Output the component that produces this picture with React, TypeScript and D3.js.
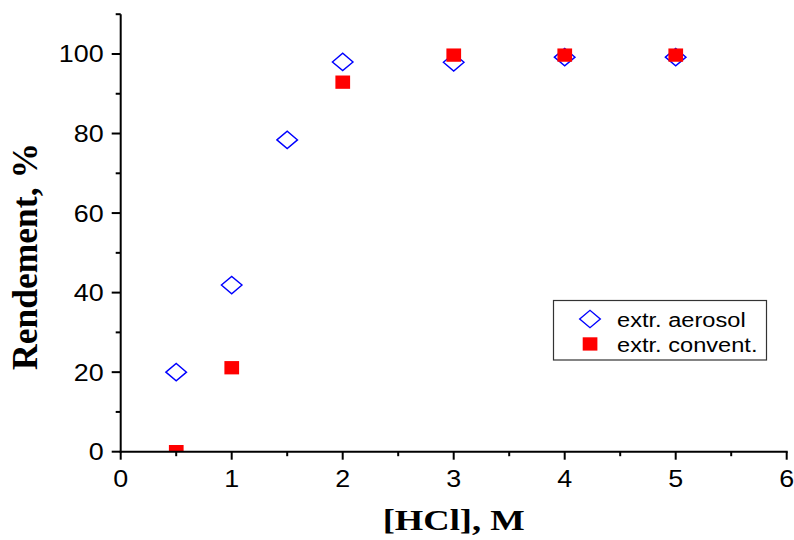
import React from "react";
import * as d3 from "d3";

const hcl = [0.5, 1, 1.5, 2, 3, 4, 5];
const aerosol = [20, 41.9, 78.4, 98, 97.9, 99.2, 99.2];
const hclConv = [0.5, 1, 2, 3, 4, 5];
const convent = [0, 21.1, 92.9, 99.7, 99.7, 99.7];
const xMajor = [0, 1, 2, 3, 4, 5, 6];
const xMinor = [0.5, 1.5, 2.5, 3.5, 4.5, 5.5];
const yMajor = [0, 20, 40, 60, 80, 100];
const yMinor = [10, 30, 50, 70, 90, 110];
const legendLabels = ["extr. aerosol", "extr. convent."];

const W = 794;
const H = 540;
const L = 120.7;
const R = 786.7;
const B = 451.7;
const T = 14.2;

export default function App() {
  const x = d3.scaleLinear().domain([0, 6]).range([L, R]);
  const y = d3.scaleLinear().domain([0, 110]).range([B, T]);
  const sx = 1.12;
  const diamond = (cx: number, cy: number) =>
    `M${cx - 10.3},${cy}L${cx},${cy - 8.7}L${cx + 10.3},${cy}L${cx},${cy + 8.7}Z`;

  return (
    <svg
      width={W}
      height={H}
      style={{ position: "absolute", left: 0, top: 0, background: "#fff" }}
    >
      <defs>
        <clipPath id="plot">
          <rect x={L} y={T - 10} width={R - L + 10} height={B - T + 10} />
        </clipPath>
      </defs>
      <rect x={0} y={0} width={W} height={H} fill="#fff" />
      <g clipPath="url(#plot)">
        {hcl.map((v, i) => (
          <path
            key={"d" + i}
            d={diamond(x(v), y(aerosol[i]))}
            fill="none"
            stroke="#0000ff"
            strokeWidth={1.4}
          />
        ))}
        {hclConv.map((v, i) => (
          <rect
            key={"s" + i}
            x={x(v) - 7.3}
            y={y(convent[i]) - 6.7}
            width={14.7}
            height={13.3}
            fill="#ff0000"
          />
        ))}
      </g>
      {/* axes */}
      <line x1={L} x2={L} y1={T} y2={B + 1} stroke="#000" strokeWidth={2} />
      <line x1={L - 1} x2={R + 1} y1={B} y2={B} stroke="#000" strokeWidth={2} />
      {yMajor.map((t) => (
        <g key={"ym" + t}>
          <line x1={L - 9} x2={L} y1={y(t)} y2={y(t)} stroke="#000" strokeWidth={2} />
          <text
            transform={`translate(${L - 17},${y(t) + 8.5}) scale(${sx},1)`}
            textAnchor="end"
            fontFamily="Arial, 'Liberation Sans', sans-serif"
            fontSize={24}
            fill="#000"
          >
            {t}
          </text>
        </g>
      ))}
      {yMinor.map((t) => (
        <line key={"yn" + t} x1={L - 5} x2={L} y1={y(t)} y2={y(t)} stroke="#000" strokeWidth={2} />
      ))}
      {xMajor.map((t) => (
        <g key={"xm" + t}>
          <line x1={x(t)} x2={x(t)} y1={B} y2={B + 8} stroke="#000" strokeWidth={2} />
          <text
            transform={`translate(${x(t)},${B + 35}) scale(${sx},1)`}
            textAnchor="middle"
            fontFamily="Arial, 'Liberation Sans', sans-serif"
            fontSize={24}
            fill="#000"
          >
            {t}
          </text>
        </g>
      ))}
      {xMinor.map((t) => (
        <line key={"xn" + t} x1={x(t)} x2={x(t)} y1={B} y2={B + 4.5} stroke="#000" strokeWidth={2} />
      ))}
      {/* axis titles */}
      <text
        x={(L + R) / 2 + 0}
        y={529.5}
        textAnchor="middle"
        fontFamily="'Times New Roman', 'Liberation Serif', serif"
        fontWeight="bold"
        fontSize={29}
        textLength={142}
        lengthAdjust="spacingAndGlyphs"
        fill="#000"
      >
        [HCl], M
      </text>
      <text
        transform={`translate(37,256.5) rotate(-90)`}
        textAnchor="middle"
        fontFamily="'Times New Roman', 'Liberation Serif', serif"
        fontWeight="bold"
        fontSize={35}
        textLength={227}
        lengthAdjust="spacingAndGlyphs"
        fill="#000"
      >
        Rendement, %
      </text>
      {/* legend */}
      <rect x={553.5} y={300.5} width={213} height={59.5} fill="#fff" stroke="#333" strokeWidth={1.2} />
      <path d={diamond(590, 319)} fill="none" stroke="#0000ff" strokeWidth={1.4} />
      <rect x={590 - 7.3} y={344 - 6.7} width={14.7} height={13.3} fill="#ff0000" />
      {legendLabels.map((lab, i) => (
        <text
          key={lab}
          transform={`translate(617,${326.5 + i * 25}) scale(1.125,1)`}
          fontFamily="Arial, 'Liberation Sans', sans-serif"
          fontSize={21}
          fill="#000"
        >
          {lab}
        </text>
      ))}
    </svg>
  );
}
